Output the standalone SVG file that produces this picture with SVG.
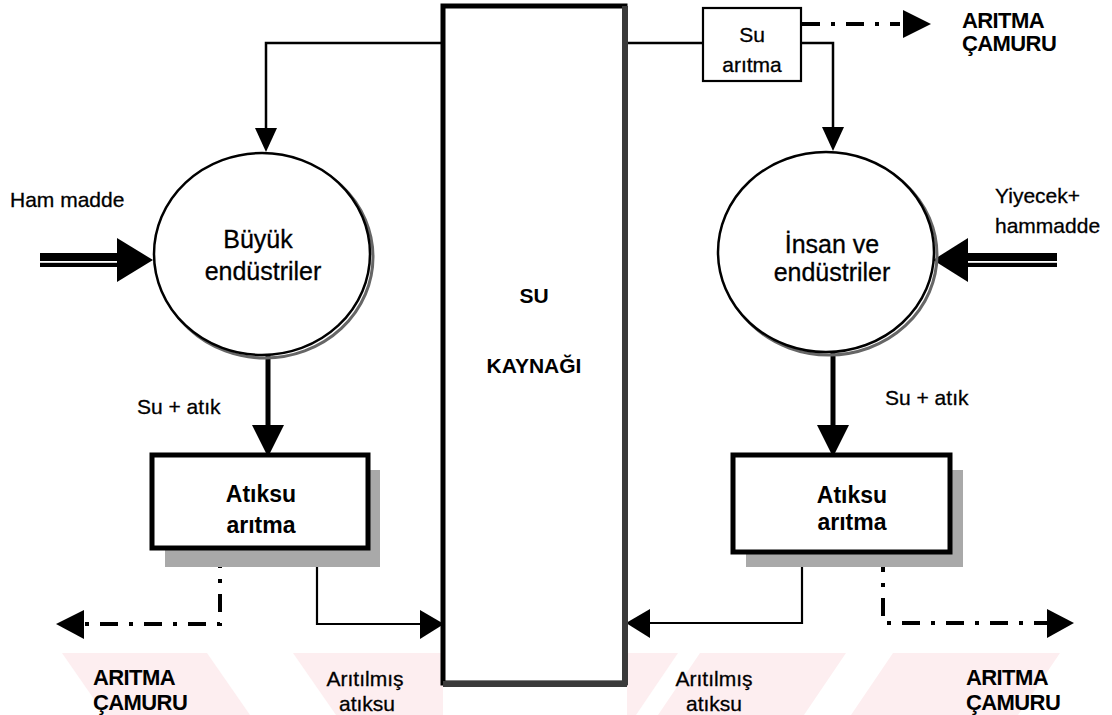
<svg xmlns="http://www.w3.org/2000/svg" width="1112" height="715" viewBox="0 0 1112 715">
<style>
text{font-family:"Liberation Sans",Arial,sans-serif;fill:#000}
.n{font-size:21px;stroke:#000;stroke-width:0.3}
.c{font-size:25px;stroke:#000;stroke-width:0.3}
.b{font-size:23px;font-weight:bold}
.bs{font-size:22px;font-weight:bold;letter-spacing:-0.6px}
.thin{fill:none;stroke:#000;stroke-width:2.5}
.med{fill:none;stroke:#000;stroke-width:2.2}
.thick{fill:none;stroke:#000;stroke-width:5}
.dash{fill:none;stroke:#000;stroke-width:4;stroke-dasharray:18 11 4 11}
.ah{fill:#000}
.wm{fill:#fdeef0}
</style>
<rect width="1112" height="715" fill="#fff"/>
<g id="watermark">
<polygon class="wm" points="62,653 207,653 250,715 105,715"/>
<polygon class="wm" points="293,653 443,653 443,715 336,715"/>
<polygon class="wm" points="627,653 678,653 636,715 627,715"/>
<polygon class="wm" points="700,653 846,653 804,715 658,715"/>
<polygon class="wm" points="893,653 1060,653 1018,715 851,715"/>
</g>
<g id="connectors">
<polyline class="thin" points="443,43 266,43 266,130"/>
<polygon class="ah" points="255,128 277,128 266,152"/>
<line class="thin" x1="625" y1="43" x2="703" y2="43"/>
<polyline class="thin" points="801,43 833,43 833,128"/>
<polygon class="ah" points="822,127 844,127 833,151"/>
<line class="dash" x1="802" y1="24" x2="900" y2="24" stroke-dasharray="16 20 4 15 24 15 4 20"/>
<polygon class="ah" points="903,10 903,38 931,24"/>
<rect x="40" y="253" width="80" height="14" fill="#000"/>
<rect x="40" y="261" width="80" height="1.8" fill="#fff"/>
<polygon class="ah" points="117,238 117,282 153,260"/>
<rect x="965" y="253" width="92" height="14" fill="#000"/>
<rect x="965" y="261" width="92" height="1.8" fill="#fff"/>
<polygon class="ah" points="968,238 968,282 933,260"/>
<line class="thick" x1="268" y1="355" x2="268" y2="430"/>
<polygon class="ah" points="252,425 284,425 268,457"/>
<line class="thick" x1="833" y1="352" x2="833" y2="430"/>
<polygon class="ah" points="817,425 849,425 833,457"/>
<polyline class="med" points="317,548 317,624 430,624"/>
<polygon class="ah" points="420,610 420,639 444,624"/>
<polyline class="dash" points="220,550 220,624 84,624" stroke-dasharray="12 23 4 14 18 11 4 11 18 11 4 11 18 11"/>
<polygon class="ah" points="84,610 84,639 56,624"/>
<polyline class="med" points="802,552 802,623 640,623"/>
<polygon class="ah" points="650,609 650,638 626,623"/>
<polyline class="dash" points="883,554 883,623 1050,623" stroke-dasharray="12 23 4 14 18 11 4 11 18 11 4 11 18 11"/>
<polygon class="ah" points="1047,609 1047,638 1074,623"/>
</g>
<g id="su-kaynagi">
<rect x="443" y="6" width="182" height="677" fill="none" stroke="#000" stroke-width="5"/>
<line x1="625" y1="6" x2="625" y2="685" stroke="#3a3a3a" stroke-width="6"/>
<line x1="443" y1="684" x2="627" y2="684" stroke="#3a3a3a" stroke-width="6"/>
<text class="b" x="534" y="303" text-anchor="middle" style="font-size:21px">SU</text>
<text class="b" x="534" y="373" text-anchor="middle" style="font-size:21px">KAYNAĞI</text>
</g>
<g id="su-aritma">
<rect x="703" y="8" width="98" height="73" fill="#fff" stroke="#000" stroke-width="2.2"/>
<text class="n" x="752" y="42" text-anchor="middle">Su</text>
<text class="n" x="752" y="72" text-anchor="middle">arıtma</text>
</g>
<g id="buyuk-endustriler">
<ellipse cx="263" cy="255" rx="108" ry="101" fill="none" stroke="#666" stroke-width="3" transform="translate(2,2)"/>
<ellipse cx="262" cy="254" rx="108" ry="101" fill="#fff" stroke="#000" stroke-width="2.5"/>
<text class="c" x="258" y="248" text-anchor="middle">Büyük</text>
<text class="c" x="263" y="280" text-anchor="middle">endüstriler</text>
</g>
<g id="insan-endustriler">
<ellipse cx="827" cy="253" rx="108" ry="100" fill="none" stroke="#666" stroke-width="3" transform="translate(2,2)"/>
<ellipse cx="826" cy="252" rx="108" ry="100" fill="#fff" stroke="#000" stroke-width="2.5"/>
<text class="c" x="832" y="253" text-anchor="middle">İnsan ve</text>
<text class="c" x="832" y="281" text-anchor="middle">endüstriler</text>
</g>
<g id="atiksu-aritma-sol">
<rect x="165" y="470" width="215" height="97" fill="#a9a9a9"/>
<rect x="152" y="455" width="216" height="93" fill="#fff" stroke="#000" stroke-width="5"/>
<text class="b" x="261" y="502" text-anchor="middle">Atıksu</text>
<text class="b" x="261" y="533" text-anchor="middle">arıtma</text>
</g>
<g id="atiksu-aritma-sag">
<rect x="746" y="470" width="217" height="97" fill="#a9a9a9"/>
<rect x="733" y="455" width="217" height="97" fill="#fff" stroke="#000" stroke-width="5"/>
<text class="b" x="852" y="503" text-anchor="middle">Atıksu</text>
<text class="b" x="852" y="530" text-anchor="middle">arıtma</text>
</g>
<g id="labels">
<text class="n" x="10" y="207">Ham madde</text>
<text class="n" x="995" y="203">Yiyecek+</text>
<text class="n" x="995" y="233">hammadde</text>
<text class="n" x="137" y="414">Su + atık</text>
<text class="n" x="885" y="405">Su + atık</text>
<text class="bs" x="962" y="28">ARITMA</text>
<text class="bs" x="962" y="51">ÇAMURU</text>
<text class="bs" x="93" y="685">ARITMA</text>
<text class="bs" x="93" y="710">ÇAMURU</text>
<text class="bs" x="966" y="685">ARITMA</text>
<text class="bs" x="966" y="710">ÇAMURU</text>
<text class="n" x="365" y="686" text-anchor="middle">Arıtılmış</text>
<text class="n" x="367" y="711" text-anchor="middle">atıksu</text>
<text class="n" x="714" y="686" text-anchor="middle">Arıtılmış</text>
<text class="n" x="714" y="711" text-anchor="middle">atıksu</text>
</g>
</svg>
